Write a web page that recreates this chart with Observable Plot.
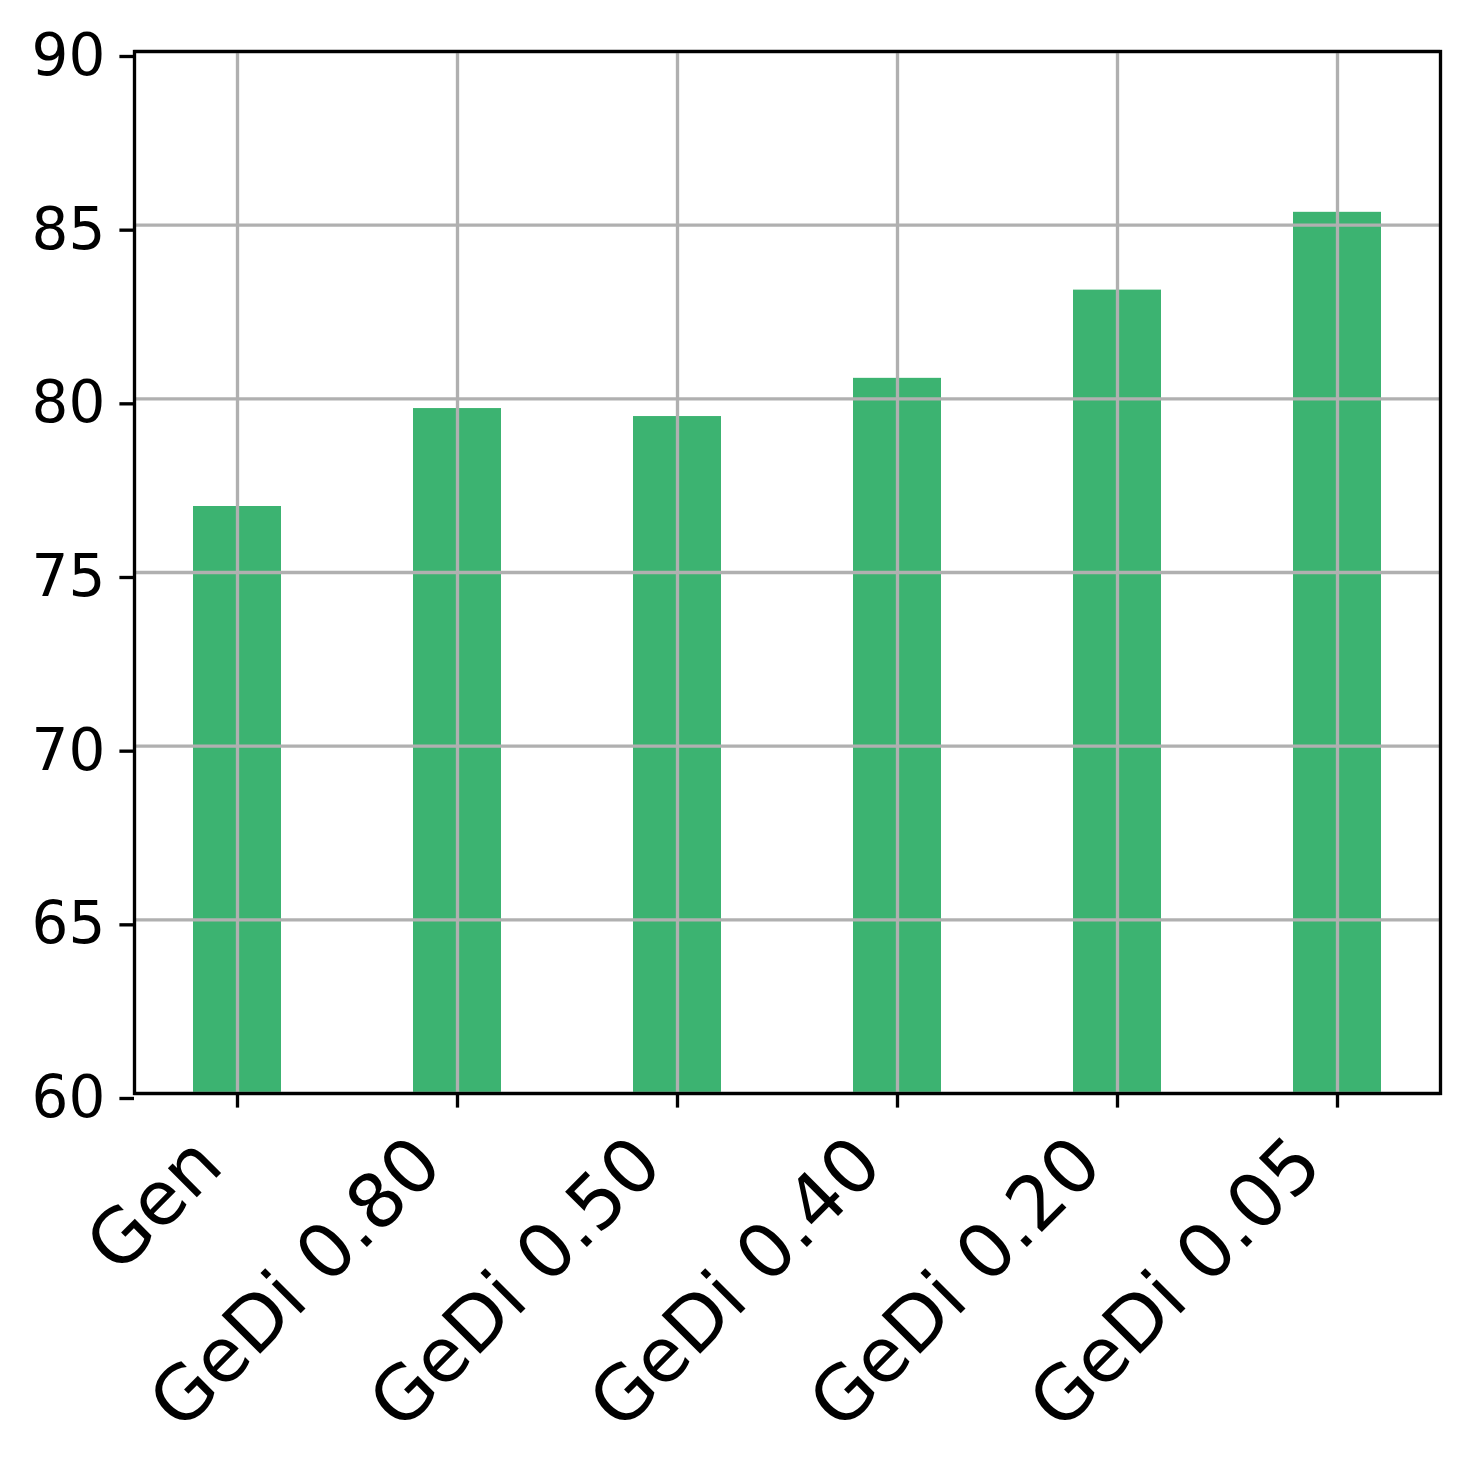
<!DOCTYPE html>
<html>
<head>
<meta charset="utf-8">
<script src="https://cdn.jsdelivr.net/npm/d3@7"></script>
<script src="https://cdn.jsdelivr.net/npm/@observablehq/plot@0.6"></script>
<style>
  html, body { margin: 0; padding: 0; background: #fff; }
  svg { display: block; }
</style>
</head>
<body>
<div id="chart"></div>
<script>
const categories = ["Gen", "GeDi 0.80", "GeDi 0.50", "GeDi 0.40", "GeDi 0.20", "GeDi 0.05"];
const values = [76.90, 79.72, 79.49, 80.59, 83.13, 85.37];
const yTicks = [60, 65, 70, 75, 80, 85, 90];

const data = categories.map((c, i) => ({category: c, value: values[i]}));

const lw = 3.33;
const chart = Plot.plot({
  width: 1469,
  height: 1468,
  marginLeft: 134,
  marginRight: 29,
  marginTop: 51,
  marginBottom: 375,
  style: {fontFamily: "DejaVu Sans", fontSize: "58px", color: "#000", background: "#fff"},
  x: {domain: categories, type: "band", paddingInner: 0.6, paddingOuter: 0.268, align: 0.5},
  y: {domain: [60, 90]},
  marks: [
    Plot.barY(data, {x: "category", y1: 60, y2: "value", fill: "#3CB371"}),
    Plot.gridX({stroke: "#b0b0b0", strokeOpacity: 1, strokeWidth: lw}),
    Plot.gridY(yTicks, {stroke: "#b0b0b0", strokeOpacity: 1, strokeWidth: lw}),
    Plot.axisY(yTicks, {tickSize: 14.6, tickPadding: 14.6, strokeWidth: lw, label: null, fontSize: 58, dy: 5, tickFormat: d => String(d)}),
    Plot.axisX({tickSize: 14.6, strokeWidth: lw, label: null, tickFormat: () => ""}),
    Plot.text(categories, {x: d => d, frameAnchor: "bottom", text: d => d, rotate: -45, textAnchor: "end", lineAnchor: "bottom", dx: -12, dy: 75, fontSize: 75, fill: "#000"}),
    Plot.frame({stroke: "#000", strokeWidth: lw})
  ]
});
document.getElementById("chart").appendChild(chart);
</script>
</body>
</html>
